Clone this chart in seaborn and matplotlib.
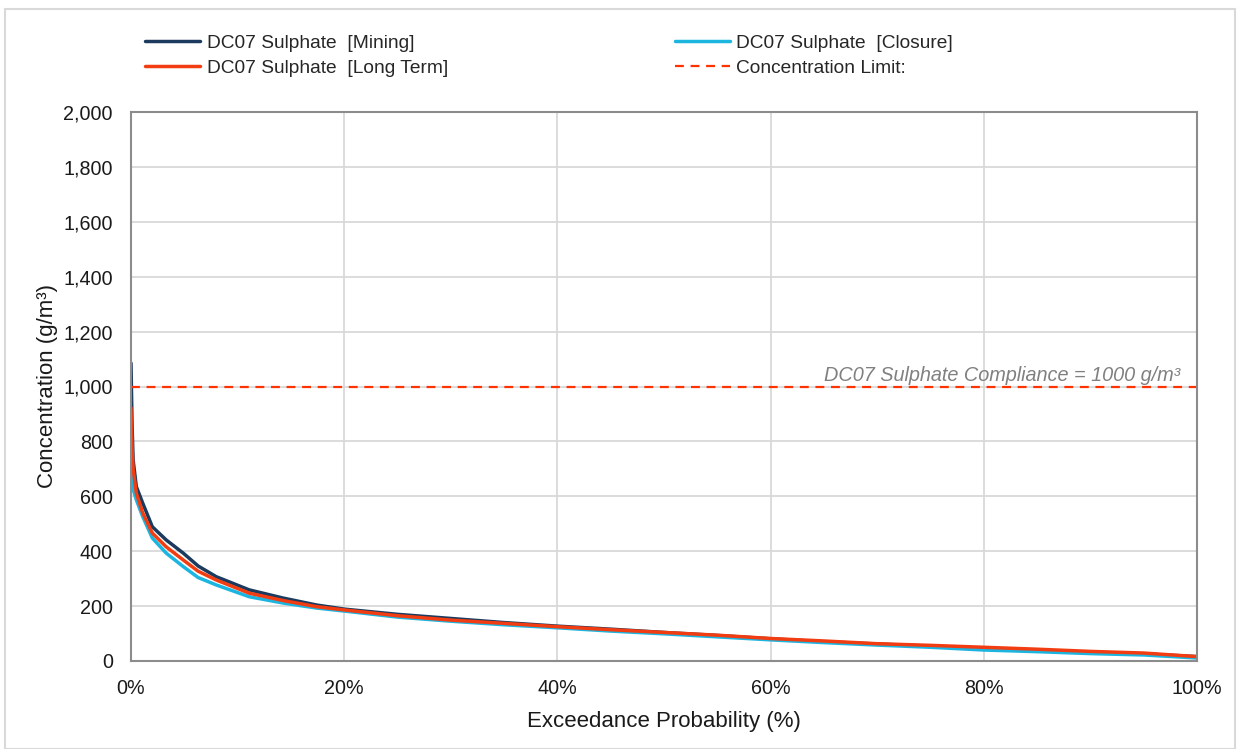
import matplotlib
matplotlib.use("Agg")
import matplotlib.pyplot as plt
import seaborn as sns
import pandas as pd
from matplotlib.ticker import FuncFormatter
from matplotlib.patches import Rectangle

# ---- data ----
exceed_pct = [0, 0.1, 0.2, 0.5, 1.1, 2.0, 3.3, 4.9, 6.3, 8.0, 11.1, 14.3, 17.4, 20,
              25, 30, 35, 40, 45, 50, 55, 60, 65, 70, 75, 80, 85, 90, 95, 100]
mining = [1085, 860, 732, 635, 575, 489, 441, 393, 346, 307, 259, 229, 204, 189,
          170, 155, 140, 127, 116, 104, 93, 81, 70, 62, 54, 47, 39, 32, 26, 16]
long_term = [922, 780, 700, 611, 539, 466, 416, 368, 327, 295, 247, 220, 198, 186,
             165, 149, 137, 125, 114, 104, 94, 82, 73, 63, 57, 50, 43, 35, 29, 16]
closure = [720, 660, 625, 587, 526, 448, 393, 344, 304, 277, 234, 211, 193, 182,
           160, 145, 132, 121, 109, 99, 88, 77, 67, 58, 50, 40, 34, 27, 22, 11]
limit_value = 1000

series_names = ["DC07 Sulphate  [Mining]", "DC07 Sulphate  [Closure]",
                "DC07 Sulphate  [Long Term]"]
limit_name = "Concentration Limit:"
y_ticks = list(range(0, 2001, 200))
x_ticks = [0, 20, 40, 60, 80, 100]

colors = {"mining": "#1B3A5E", "closure": "#1CB5E0", "long": "#F23D12"}

sns.set_theme(style="white")
plt.rcParams["font.family"] = ["Liberation Sans", "DejaVu Sans"]

fig = plt.figure(figsize=(12.39, 7.49), dpi=100)
ax = fig.add_axes([131 / 1239, 1 - 661 / 749, (1197 - 131) / 1239, (661 - 112) / 749])

# figure border
fig.patches.append(Rectangle((5 / 1239, 0.0), 1 - 9 / 1239, 1 - 9 / 749,
                             transform=fig.transFigure, fill=False,
                             edgecolor="#D9D9D9", linewidth=1.5))

df_m = pd.DataFrame({"x": exceed_pct, "y": mining})
df_c = pd.DataFrame({"x": exceed_pct, "y": closure})
df_l = pd.DataFrame({"x": exceed_pct, "y": long_term})

sns.lineplot(data=df_m, x="x", y="y", ax=ax, color=colors["mining"], linewidth=2.5,
             label=series_names[0])
sns.lineplot(data=df_c, x="x", y="y", ax=ax, color=colors["closure"], linewidth=2.5,
             label=series_names[1])
sns.lineplot(data=df_l, x="x", y="y", ax=ax, color=colors["long"], linewidth=2.5,
             label=series_names[2])
ax.axhline(limit_value, color="#FF3300", linestyle=(0, (4, 3)), linewidth=1.6,
           label=limit_name)

ax.text(98.4, limit_value + 6, "DC07 Sulphate Compliance = 1000 g/m³", ha="right",
        va="bottom", style="italic", color="#808080", fontsize=14.3)

ax.set_xlim(0, 100)
ax.set_ylim(0, 2000)
ax.set_xticks(x_ticks)
ax.set_yticks(y_ticks)
ax.xaxis.set_major_formatter(FuncFormatter(lambda v, p: f"{int(v)}%"))
ax.yaxis.set_major_formatter(FuncFormatter(lambda v, p: f"{int(v):,}"))
ax.grid(True, color="#D9D9D9", linewidth=1.3)
ax.set_axisbelow(True)
for s in ax.spines.values():
    s.set_color("#8C8C8C")
    s.set_linewidth(1.5)
ax.tick_params(axis="both", which="major", direction="out", length=5, width=1.2,
               color="#8C8C8C", labelsize=14.2, labelcolor="#1A1A1A")
ax.tick_params(axis="y", pad=8)
ax.tick_params(axis="x", pad=8)
ax.set_xlabel("Exceedance Probability (%)", fontsize=16, color="#1A1A1A", labelpad=9)
ax.set_ylabel("Concentration (g/m³)", fontsize=16, color="#1A1A1A", labelpad=4)

handles, labels = ax.get_legend_handles_labels()
if ax.get_legend():
    ax.get_legend().remove()
fig.legend([handles[i] for i in [0, 2, 1, 3]], [labels[i] for i in [0, 2, 1, 3]],
           ncol=2, loc="upper left", bbox_to_anchor=(128 / 1239, 1 - 17 / 749),
           frameon=False, fontsize=13.8, handlelength=2.87, columnspacing=11.8,
           labelspacing=0.42, handletextpad=0.36)

fig.savefig("out.png", dpi=100)
